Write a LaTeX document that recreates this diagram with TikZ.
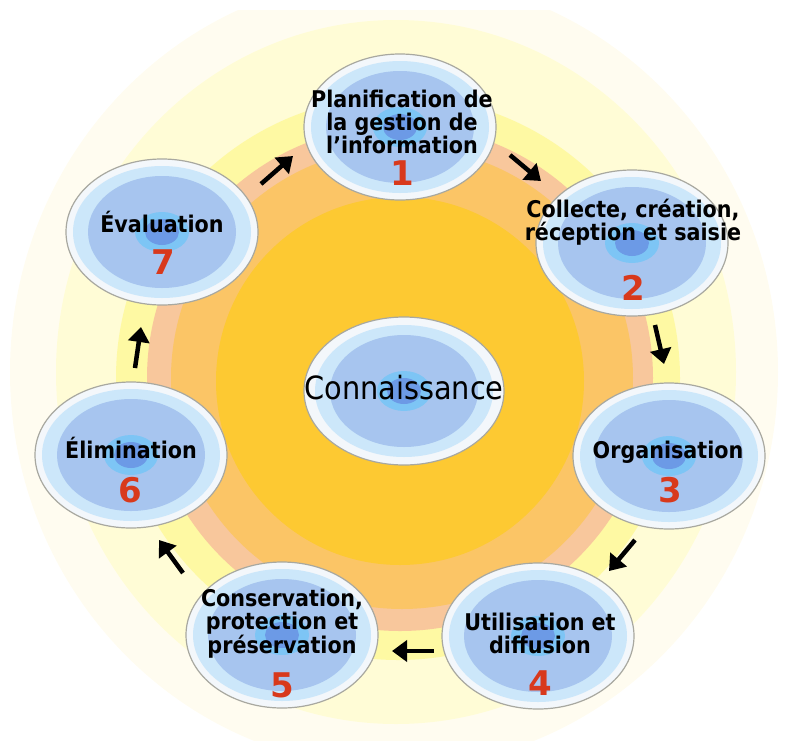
\documentclass[tikz,border=0pt]{standalone}
\usepackage{fontspec}
\setmainfont{DejaVu Sans}
\newfontfamily\condfont{DejaVu Sans Condensed}
\usetikzlibrary{shapes.geometric,arrows.meta}

\definecolor{creme}{HTML}{FFFCF0}
\definecolor{paleyellow}{HTML}{FFFCD6}
\definecolor{lemon}{HTML}{FEF9A3}
\definecolor{peach}{HTML}{F8C79C}
\definecolor{apricot}{HTML}{FBC566}
\definecolor{gold}{HTML}{FDC932}
\definecolor{rimwhite}{HTML}{F3F7FB}
\definecolor{rimgray}{HTML}{A8A8A0}
\definecolor{skyA}{HTML}{CCE7FA}
\definecolor{skyB}{HTML}{A7C5EF}
\definecolor{skyC}{HTML}{7DC5F5}
\definecolor{skyD}{HTML}{6C9AE6}
\definecolor{numred}{HTML}{D8391C}

\tikzset{
  bubble/.style={ellipse, draw=rimgray, line width=1.2pt, fill=rimwhite, inner sep=0pt,
    minimum width=192pt, minimum height=146pt,
    path picture={
      \coordinate (pc) at (path picture bounding box.center);
      \fill[skyA] (pc) ellipse [x radius=89pt, y radius=66pt];
      \fill[skyB] (pc) ellipse [x radius=74pt, y radius=56pt];
      \fill[skyC] (pc) ellipse [x radius=27pt, y radius=20pt];
      \fill[skyD] (pc) ellipse [x radius=17pt, y radius=13pt];
    }},
  steplabel/.style={font=\condfont\bfseries\fontsize{23}{23}\selectfont, align=center, inner sep=0pt},
  stepnum/.style={font=\bfseries\fontsize{34}{34}\selectfont, text=numred, inner sep=0pt},
  cyclearrow/.style={line width=4.5pt, -{Triangle[width=21pt,length=15pt]}},
}

\begin{document}
\begin{tikzpicture}[x=1pt,y=-1pt]
        \useasboundingbox (0,0) rectangle (785,740);

        % rings
        \begin{scope}
            \clip (0,10) rectangle (785,740);
            \fill[creme] (394,372) ellipse [x radius=384pt, y radius=396pt];
            \fill[paleyellow] (396,372) ellipse [x radius=340pt, y radius=352pt];
            \fill[lemon] (398,378) circle (282pt);
            \fill[peach] (400,378) circle (253pt);
            \fill[apricot] (402,378) circle (231pt);
            \fill[gold] (400,381) circle (184pt);
        \end{scope}

        % bubbles
        \node[bubble] (n1) at (400,127) {};
        \node[bubble] (n2) at (632,243) {};
        \node[bubble] (n3) at (669,456) {};
        \node[bubble] (n4) at (538,636) {};
        \node[bubble] (n5) at (282,635) {};
        \node[bubble] (n6) at (131,455) {};
        \node[bubble] (n7) at (162,232) {};
        \node[bubble, minimum width=200pt, minimum height=148pt] (nc) at (404,391) {};

        % labels
        \node[steplabel] (t1) at (402,122) {Planification de\\la gestion de\\l’information};
        \node[steplabel] (t2) at (633,222) {Collecte, création,\\réception et saisie};
        \node[steplabel] (t3) at (668,452) {Organisation};
        \node[steplabel] (t4) at (540,633) {Utilisation et\\diffusion};
        \node[steplabel] (t5) at (282,624) {Conservation,\\protection et\\préservation};
        \node[steplabel] (t6) at (131,448) {Élimination};
        \node[steplabel] (t7) at (162,222) {Évaluation};
        \node[font=\condfont\fontsize{32}{32}\selectfont, inner sep=0pt] (tc) at (404,388) {Connaissance};

        \node[stepnum] (k1) at (402,173) {1};
        \node[stepnum] (k2) at (633,288) {2};
        \node[stepnum] (k3) at (670,490) {3};
        \node[stepnum] (k4) at (540,683) {4};
        \node[stepnum] (k5) at (282,685) {5};
        \node[stepnum] (k6) at (130,490) {6};
        \node[stepnum] (k7) at (163,262) {7};

        % arrows
        \coordinate (a12) at (510,155);  \coordinate (b12) at (541,181);
        \coordinate (a23) at (655,325);  \coordinate (b23) at (664,364);
        \coordinate (a34) at (635,540);  \coordinate (b34) at (609,571);
        \coordinate (a45) at (434,651);  \coordinate (b45) at (392,651);
        \coordinate (a56) at (183,573);  \coordinate (b56) at (159,540);
        \coordinate (a67) at (135,368);  \coordinate (b67) at (141,327);
        \coordinate (a71) at (261,184);  \coordinate (b71) at (293,156);

        \draw[cyclearrow] (a12) -- (b12);
        \draw[cyclearrow] (a23) -- (b23);
        \draw[cyclearrow] (a34) -- (b34);
        \draw[cyclearrow] (a45) -- (b45);
        \draw[cyclearrow] (a56) -- (b56);
        \draw[cyclearrow] (a67) -- (b67);
        \draw[cyclearrow] (a71) -- (b71);
    \end{tikzpicture}
\end{document}
